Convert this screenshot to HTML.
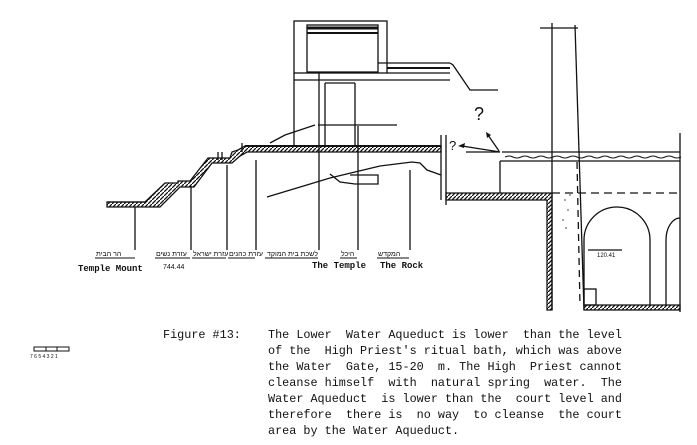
<!DOCTYPE html>
<html><head><meta charset="utf-8"><style>
html,body{margin:0;padding:0;background:#fff;}
body{width:697px;height:445px;overflow:hidden;position:relative;font-family:"Liberation Mono",monospace;}
.t{position:absolute;font-size:11.8px;white-space:pre;color:#111;line-height:19.2px;}
</style></head><body>
<svg width="697" height="445" style="position:absolute;left:0;top:0" xmlns="http://www.w3.org/2000/svg">
<defs>
<pattern id="h" width="4" height="4" patternUnits="userSpaceOnUse"><path d="M0,4 L4,0" stroke="#111" stroke-width="1.3"/></pattern>
</defs>
<g stroke="#111" stroke-width="1.3" fill="none">
<rect x="294" y="21" width="93" height="52"/>
<rect x="307" y="25" width="71" height="47"/>
<line x1="307" y1="28" x2="378" y2="28" stroke-width="3"/>
<line x1="307" y1="33" x2="378" y2="33" stroke-width="2"/>
<line x1="294" y1="73" x2="294" y2="146"/>
<line x1="294" y1="80" x2="450" y2="80"/>
<line x1="378" y1="63" x2="450" y2="63"/>
<line x1="387" y1="68" x2="450" y2="68" stroke-width="2"/>
<line x1="387" y1="73" x2="450" y2="73"/>
<polyline points="450,63 453,65 470,90 498,90"/>
<line x1="319" y1="72" x2="319" y2="250"/>
<line x1="325" y1="83" x2="325" y2="146"/>
<line x1="325" y1="83" x2="355" y2="83"/>
<line x1="355" y1="83" x2="355" y2="146"/>
<line x1="358" y1="126" x2="358" y2="250"/>
<line x1="318" y1="125" x2="397" y2="125"/>
<polyline points="270,143 285,135 300,130 315,125"/>
<polygon points="107,202 145,202 165,183 178,183 178,181 190,181 208,158 230,158 232,152 238,150 245,146 441,146 441,152 247,152 240,156 232,163 212,163 194,187 180,187 160,207 107,207" fill="url(#h)"/>
<line x1="107" y1="202" x2="145" y2="202"/>
<line x1="245" y1="146" x2="441" y2="146" stroke-width="2"/>
<line x1="135" y1="207" x2="135" y2="250"/>
<line x1="191" y1="186" x2="191" y2="250"/>
<line x1="227" y1="165" x2="227" y2="250"/>
<line x1="256" y1="160" x2="256" y2="250"/>
<line x1="410" y1="170" x2="410" y2="250"/>
<line x1="441" y1="135" x2="441" y2="200"/>
<line x1="218" y1="152" x2="218" y2="160"/><line x1="222" y1="152" x2="222" y2="160"/>
<line x1="242" y1="143" x2="242" y2="152"/>
<polyline points="267,197 330,178 380,166 412,162 420,163 427,170 441,175"/>
<polyline points="330,174 340,182 355,184 378,184 378,175 350,175"/>
<g stroke-width="1">
<line x1="95" y1="258" x2="135" y2="258"/><line x1="155" y1="258" x2="190" y2="258"/>
<line x1="192" y1="258" x2="226" y2="258"/><line x1="228" y1="258" x2="255" y2="258"/>
<line x1="265" y1="258" x2="318" y2="258"/><line x1="340" y1="258" x2="357" y2="258"/>
<line x1="377" y1="258" x2="409" y2="258"/>
</g>
<line x1="540" y1="28" x2="578" y2="28"/>
<line x1="552" y1="23" x2="552" y2="310"/>
<line x1="575" y1="25" x2="584" y2="310"/>
<line x1="502" y1="152" x2="680" y2="152"/>
<line x1="500" y1="161" x2="680" y2="161"/>
<path d="M505,157 q4,-2 8,0 t8,0 t8,0 t8,0 t8,0 t8,0 t8,0 t8,0 t8,0 t8,0 t8,0 t8,0 t8,0 t8,0 t8,0 t8,0 t8,0 t8,0 t8,0 t8,0 t8,0 t8,0" stroke-width="1"/>
<line x1="680" y1="133" x2="680" y2="312"/>
<line x1="500" y1="161" x2="500" y2="193"/>
<line x1="446" y1="135" x2="446" y2="205"/>
<polygon points="446,193 552,193 552,310 547,310 547,200 446,200" fill="url(#h)"/>
<line x1="552" y1="193" x2="680" y2="193" stroke-dasharray="8,5"/>
<line x1="577" y1="162" x2="580" y2="305" stroke-dasharray="7,5"/>
<path d="M584,305 L584,240 A33,33 0 0 1 650,240 L650,305"/>
<path d="M666,305 L666,240 A14,22 0 0 1 680,218"/>
<rect x="584" y="289" width="12" height="16"/>
<line x1="588" y1="250" x2="622" y2="250"/>
<polygon points="584,305 680,305 680,310 584,310" fill="url(#h)"/>
<line x1="466" y1="152" x2="500" y2="152"/>
<line x1="500" y1="152" x2="462" y2="146"/>
<line x1="499" y1="151" x2="488" y2="135"/>
</g>
<g fill="#111"><path d="M458,146 l7,-3 l-1,5z"/><path d="M486,132 l1,6 l4,-3z"/></g>
<g fill="#888"><circle cx="565" cy="200" r="1"/><circle cx="568" cy="210" r="1"/><circle cx="563" cy="220" r="1"/><circle cx="570" cy="195" r="1"/><circle cx="566" cy="228" r="1"/></g>
<rect x="34" y="347" width="35" height="4" fill="none" stroke="#111"/>
<line x1="46" y1="347" x2="46" y2="351" stroke="#111"/><line x1="57" y1="347" x2="57" y2="351" stroke="#111"/>
<g font-family="Liberation Sans, sans-serif" fill="#111">
<text x="474" y="120" font-size="18">?</text>
<text x="449" y="150" font-size="13">?</text>
<text x="312" y="268" font-size="9" font-family="Liberation Mono, monospace" font-weight="bold">The Temple</text>
<text x="380" y="268" font-size="9" font-family="Liberation Mono, monospace" font-weight="bold">The Rock</text>
<text x="78" y="271" font-size="9" font-family="Liberation Mono, monospace" font-weight="bold">Temple Mount</text>
<text x="163" y="269" font-size="7">744.44</text>
<text x="597" y="257" font-size="6">120.41</text>
<g font-size="7" font-family="Liberation Sans, Noto Sans CJK SC, sans-serif">
<text x="96" y="256">הר הבית</text><text x="156" y="256">עזרת נשים</text><text x="193" y="256">עזרת ישראל</text>
<text x="229" y="256">עזרת כהנים</text><text x="267" y="256">לשכת בית המוקד</text><text x="341" y="256">היכל</text><text x="378" y="256">המקדש</text>
</g>
<text x="30" y="358" font-size="5">7 6 5 4 3 2 1</text>
</g>
</svg>
<div class="t" style="left:163px;top:327px;line-height:16px">Figure #13:</div>
<div class="t" style="left:268px;top:327px;line-height:16px">The Lower  Water Aqueduct is lower  than the level
of the  High Priest's ritual bath, which was above
the Water  Gate, 15-20  m. The High  Priest cannot
cleanse himself  with  natural spring  water.  The
Water Aqueduct  is lower than the  court level and
therefore  there is  no way  to cleanse  the court
area by the Water Aqueduct.</div>
</body></html>
